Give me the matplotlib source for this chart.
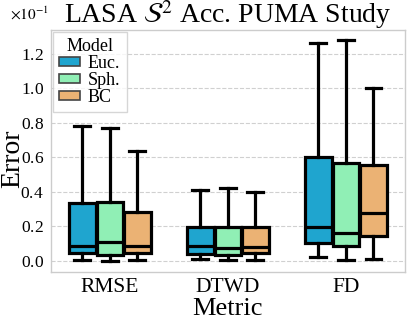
import matplotlib
matplotlib.use("Agg")
import matplotlib.pyplot as plt
from matplotlib.patches import Patch
from matplotlib.ticker import ScalarFormatter

plt.rcParams['font.family'] = ['Liberation Serif', 'DejaVu Serif']
plt.rcParams['mathtext.fontset'] = 'stix'

metrics = ["RMSE", "DTWD", "FD"]
models = ["Euc.", "Sph.", "BC"]
colors = ["#1fa5cf", "#90efb5", "#ebb274"]

# values (actual units, axis shows x10^-1)
whislo = {"Euc.": [0.0004, 0.0010, 0.0020], "Sph.": [0.0000, 0.0005, 0.0008], "BC": [0.0003, 0.0005, 0.0012]}
q1 = {"Euc.": [0.0043, 0.0041, 0.0101], "Sph.": [0.0035, 0.0035, 0.0085], "BC": [0.0046, 0.0046, 0.0143]}
med = {"Euc.": [0.0087, 0.0087, 0.0195], "Sph.": [0.0107, 0.0074, 0.0159], "BC": [0.0087, 0.0079, 0.0278]}
q3 = {"Euc.": [0.0338, 0.0199, 0.0599], "Sph.": [0.0340, 0.0194, 0.0568], "BC": [0.0284, 0.0194, 0.0555]}
whishi = {"Euc.": [0.0781, 0.0410, 0.1264], "Sph.": [0.0769, 0.0420, 0.1278], "BC": [0.0638, 0.0398, 0.0999]}

fig = plt.figure(figsize=(4.07, 3.19), dpi=100)
ax = fig.add_axes([0.125, 0.147, 0.870, 0.759])

width = 0.7
bw = width / len(models)
for j, m in enumerate(models):
    stats = []
    pos = []
    for i, met in enumerate(metrics):
        stats.append(dict(whislo=whislo[m][i], q1=q1[m][i], med=med[m][i], q3=q3[m][i],
                          whishi=whishi[m][i], fliers=[]))
        pos.append(i - width / 2 + bw * (j + 0.5))
    ax.bxp(stats, positions=pos, widths=bw * 0.97, patch_artist=True, showfliers=False,
           boxprops=dict(facecolor=colors[j], edgecolor="black", linewidth=2.3),
           medianprops=dict(color="black", linewidth=2.3),
           whiskerprops=dict(color="black", linewidth=2.3),
           capprops=dict(color="black", linewidth=2.3),
           capwidths=bw * 0.58, zorder=3)

ax.set_xlim(-0.5, 2.5)
ax.set_ylim(-0.0065, 0.1337)
ax.set_xticks(range(len(metrics)))
ax.set_xticklabels(metrics)
ax.set_yticks([0, 0.02, 0.04, 0.06, 0.08, 0.10, 0.12])
fmt = ScalarFormatter(useMathText=True)
fmt.set_powerlimits((-1, -1))
ax.yaxis.set_major_formatter(fmt)
ax.yaxis.get_offset_text().set_visible(False)
ax.tick_params(axis='y', labelsize=12.5, length=0, pad=5)
ax.tick_params(axis='x', labelsize=15.5, length=0, pad=4)
ax.grid(axis='y', color='#d0d0d0', linestyle='--', linewidth=0.8, zorder=0)
ax.set_axisbelow(True)
for s in ax.spines.values():
    s.set_color('#cccccc')
    s.set_linewidth(1.0)

ax.text(-0.06, 1.03, r"$\times10^{-1}$", transform=ax.transAxes, fontsize=11,
        ha='center', va='bottom')
ax.set_title(r"LASA $\mathcal{S}^2$ Acc. PUMA Study", fontsize=20, pad=5, y=1.0)
ax.set_ylabel("Error", fontsize=20)
ax.yaxis.set_label_coords(-0.073, 0.47)
ax.set_xlabel("Metric", fontsize=19, labelpad=1)

handles = [Patch(facecolor=c, edgecolor="#444444", linewidth=1.2) for c in colors]
leg = ax.legend(handles, models, title="Model", loc="upper left", fontsize=13,
                title_fontsize=13, handlelength=1.15, handleheight=0.35,
                labelspacing=0.0, handletextpad=0.45, borderpad=0.35,
                borderaxespad=0.1, fancybox=False, edgecolor='#cccccc')

fig.savefig("out.png", dpi=100)
